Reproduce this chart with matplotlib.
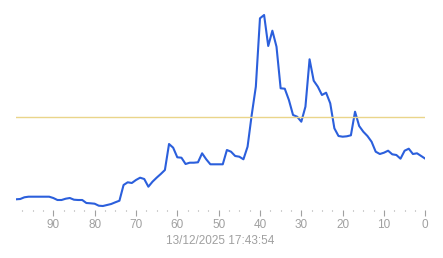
import matplotlib
matplotlib.use("Agg")
import matplotlib.pyplot as plt
import numpy as np

minutes_ago = list(range(99, -1, -1))
values = [10.7, 11, 12.7, 13.3, 13.3, 13.3, 13.3, 13.3, 13.3, 12, 10, 10, 11.3, 12, 10.3, 10, 10,
          7, 6.7, 6.3, 4.3, 4, 5, 6, 7.7, 9.3, 25, 27.7, 27, 30, 32.3, 31, 23.3, 28.3, 32.3, 36, 40,
          66, 62.3, 52.7, 52.3, 46, 47.3, 47.3, 47.7, 56.7, 50.7, 45.7, 45.7, 45.7, 45.7, 60, 58.3,
          54, 53.3, 50.7, 63.3, 95, 123.3, 191.7, 195, 164, 179.3, 163.3, 121.7, 121.3, 110, 95,
          93.3, 88.3, 103.3, 150.7, 129.3, 123.3, 115, 117.3, 106.7, 81.7, 74, 73.3, 73.7, 74.7,
          98.3, 84, 78.3, 74, 68.3, 58.3, 56, 57.3, 59.3, 55.7, 55, 51.3, 59.3, 61.3, 56, 56.7,
          54, 51.3]
threshold = 92.7
major_ticks = list(range(0, 100, 10))
timestamp = "13/12/2025 17:43:54"

W, H = 443, 258
fig = plt.figure(figsize=(W / 100, H / 100), dpi=100)
left, right = 16.1, 425.3
bottom, top = 210, 10
ax = fig.add_axes([left / W, 1 - bottom / H, (right - left) / W, (bottom - top) / H])
ax.plot(minutes_ago, values, color="#2b5fdc", lw=1.5, solid_joinstyle="round")
ax.axhline(threshold, color="#ead58a", lw=1.0)
ax.set_xlim(99, 0)
ax.set_ylim(0, 200)
for s in ax.spines.values():
    s.set_visible(False)
ax.set_yticks([])
ax.set_xticks(major_ticks)
ax.set_xticklabels([str(t) for t in major_ticks])
ax.set_xticks(np.arange(0, 100, 2.5), minor=True)
ax.tick_params(axis="x", which="major", length=4.3, width=0.8, color="#a0a0a0",
               labelcolor="#a0a0a0", labelsize=8.5, pad=2)
ax.tick_params(axis="x", which="minor", length=1.0, width=0.8, color="#a0a0a0")
for lbl in ax.get_xticklabels():
    lbl.set_family(["Liberation Sans", "DejaVu Sans"])
fig.text(220 / W, 1 - 241 / H, timestamp, ha="center", va="center", color="#a0a0a0",
         fontsize=8.5, family=["Liberation Sans", "DejaVu Sans"])
fig.savefig("out.png", dpi=100, facecolor="white")
